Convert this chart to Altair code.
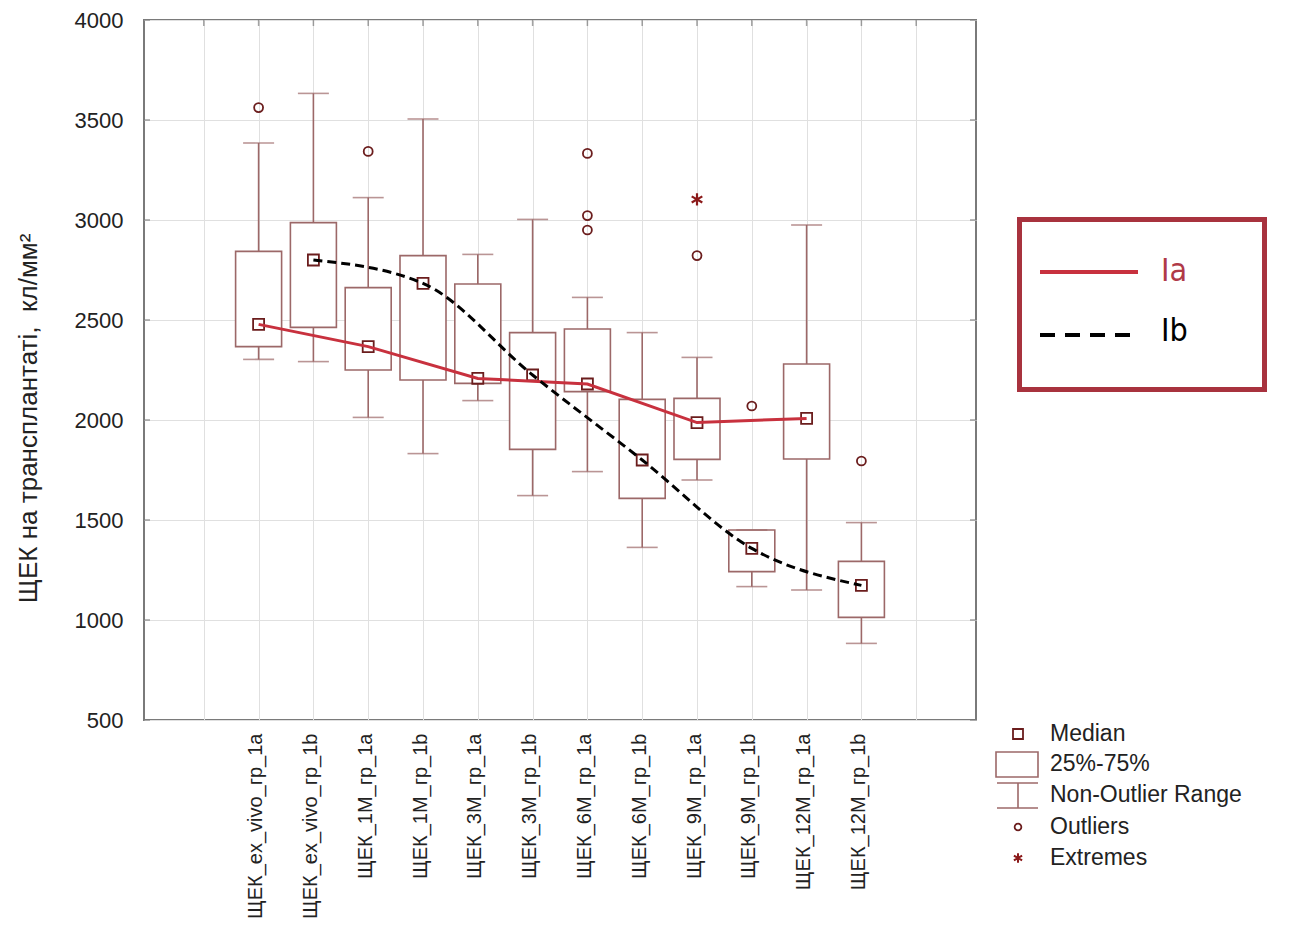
import json
import altair as alt
import pandas as pd

# ---------------- data ----------------
categories = ["ЩЕК_ex_vivo_гр_1a", "ЩЕК_ex_vivo_гр_1b", "ЩЕК_1M_гр_1a", "ЩЕК_1M_гр_1b",
              "ЩЕК_3M_гр_1a", "ЩЕК_3M_гр_1b", "ЩЕК_6M_гр_1a", "ЩЕК_6M_гр_1b",
              "ЩЕК_9M_гр_1a", "ЩЕК_9M_гр_1b", "ЩЕК_12M_гр_1a", "ЩЕК_12M_гр_1b"]
groups = ["Ia", "Ib", "Ia", "Ib", "Ia", "Ib", "Ia", "Ib", "Ia", "Ib", "Ia", "Ib"]
medians = [2478, 2800, 2367, 2683, 2208, 2225, 2180, 1800, 1987, 1358, 2008, 1173]
q1 = [2367, 2463, 2250, 2200, 2183, 1853, 2142, 1608, 1803, 1242, 1805, 1013]
q3 = [2843, 2987, 2662, 2822, 2680, 2437, 2455, 2103, 2108, 1450, 2280, 1293]
whisker_low = [2303, 2292, 2013, 1832, 2097, 1622, 1742, 1363, 1700, 1167, 1150, 883]
whisker_high = [3385, 3633, 3112, 3505, 2828, 3003, 2613, 2437, 2313, 1450, 2975, 1487]
outlier_cat = [0, 2, 6, 6, 6, 8, 9, 11]
outlier_val = [3562, 3343, 3333, 3022, 2950, 2822, 2070, 1795]
extreme_cat = [8]
extreme_val = [3103]
y_ticks = [500, 1000, 1500, 2000, 2500, 3000, 3500, 4000]
x_grid = list(range(1, 15))
group_labels = ["Ia", "Ib"]
box_legend_labels = ["Median", "25%-75%", "Non-Outlier Range", "Outliers", "Extremes"]
y_title = "ЩЕК на трансплантаті,\u00a0 кл/мм²"

# ---------------- tables ----------------
FIRST = 2  # first category sits on slot 2 of 0..15
box_df = pd.DataFrame({
    "pos": [i + FIRST for i in range(len(categories))],
    "cat": categories, "grp": groups,
    "med": medians, "q1": q1, "q3": q3, "lo": whisker_low, "hi": whisker_high,
})
out_df = pd.DataFrame({"pos": [c + FIRST for c in outlier_cat], "v": outlier_val})
ext_df = pd.DataFrame({"pos": [c + FIRST for c in extreme_cat], "v": extreme_val})
ytick_df = pd.DataFrame({"v": y_ticks})
xgrid_df = pd.DataFrame({"g": x_grid})
one = pd.DataFrame({"k": [0]})

# ---------------- styles ----------------
FONT = "Liberation Sans"
NARROW = "Liberation Sans Narrow, Arial Narrow, DejaVu Sans Condensed, Roboto Condensed, Liberation Sans, sans-serif"
BOX = "#9c6868"
DARK = "#6b1d1d"
RED = "#c8313e"
FRAME = "#7a7a7a"
W, H = 832, 700

xs = alt.Scale(domain=[0, 15], nice=False, zero=False)
ys = alt.Scale(domain=[500, 4000], nice=False, zero=False)
label_expr = ("datum.value >= 2 && datum.value <= 13 ? "
              + json.dumps(categories, ensure_ascii=False) + "[datum.value - 2] : ''")
xaxis = alt.Axis(values=x_grid, labelExpr=label_expr, labelAngle=270, labelAlign="right",
                 labelBaseline="middle", labelFontSize=20, labelPadding=13, labelOffset=-3,
                 labelOverlap=False, labelFlush=False, labelLimit=0, ticks=False,
                 domain=False, grid=True, title=None)
yaxis = alt.Axis(values=y_ticks, format="d", grid=True, ticks=False, domain=False,
                 labelFontSize=22, labelPadding=21, title=y_title, titleFontSize=26,
                 titleFontWeight="normal", titleAngle=270, titleAlign="center",
                 titleBaseline="middle", titleX=-116, titleY=398)


def X(field):
    return alt.X(field, scale=xs, axis=xaxis)


def Y(field):
    return alt.Y(field, scale=ys, axis=yaxis)


base = alt.Chart(box_df)

boxes = base.mark_bar(size=46, fill="white", stroke=BOX, strokeWidth=1.6).encode(
    x=X("pos:Q"), y=Y("q1:Q"), y2="q3:Q")
wh_up = base.mark_rule(color=BOX, strokeWidth=1.6).encode(x=X("pos:Q"), y=Y("hi:Q"), y2="q3:Q")
wh_dn = base.mark_rule(color=BOX, strokeWidth=1.6).encode(x=X("pos:Q"), y=Y("q1:Q"), y2="lo:Q")
cap_hi = base.mark_tick(orient="horizontal", size=31, thickness=1.6, color=BOX).encode(
    x=X("pos:Q"), y=Y("hi:Q"))
cap_lo = base.mark_tick(orient="horizontal", size=31, thickness=1.6, color=BOX).encode(
    x=X("pos:Q"), y=Y("lo:Q"))
med_pts = base.mark_point(shape="square", size=121, filled=False, stroke=DARK,
                          strokeWidth=1.8, opacity=1).encode(x=X("pos:Q"), y=Y("med:Q"))
outs = alt.Chart(out_df).mark_point(shape="circle", size=80, filled=False, stroke=DARK,
                                    strokeWidth=1.8, opacity=1).encode(x=X("pos:Q"), y=Y("v:Q"))
ASTER = "M0,-1L0,1M-0.866,-0.5L0.866,0.5M-0.866,0.5L0.866,-0.5"
exts = alt.Chart(ext_df).mark_point(shape=ASTER, size=150, filled=False, stroke="#8b1a1a",
                                    strokeWidth=2.2, opacity=1).encode(x=X("pos:Q"), y=Y("v:Q"))

la_line = base.transform_filter(alt.datum.grp == "Ia").mark_line(
    color=RED, strokeWidth=3).encode(x=X("pos:Q"), y=Y("med:Q"))
lb_line = base.transform_filter(alt.datum.grp == "Ib").mark_line(
    color="black", strokeWidth=3, strokeDash=[9, 5], interpolate="monotone").encode(
    x=X("pos:Q"), y=Y("med:Q"))

# inward frame ticks
tick_left = alt.Chart(ytick_df).mark_tick(orient="horizontal", size=6, thickness=1.5,
                                          color=FRAME).encode(y=Y("v:Q"), x=alt.value(3))
tick_right = alt.Chart(ytick_df).mark_tick(orient="horizontal", size=6, thickness=1.5,
                                           color=FRAME).encode(y=Y("v:Q"), x=alt.value(W - 3))
tick_top = alt.Chart(xgrid_df).mark_tick(orient="vertical", size=6, thickness=1.5,
                                         color=FRAME).encode(x=X("g:Q"), y=alt.value(3))

# ---------------- group legend (Ia / Ib) ----------------
o = alt.Chart(one)
leg_box = o.mark_rect(fill="white", stroke="#a8323e", strokeWidth=5).encode(
    x=alt.value(875.5), x2=alt.value(1120.5), y=alt.value(199.5), y2=alt.value(369.5))
leg_la = o.mark_rule(color=RED, strokeWidth=4).encode(
    x=alt.value(896), x2=alt.value(994), y=alt.value(252))
leg_lb = o.mark_rule(color="black", strokeWidth=4, strokeDash=[15, 10]).encode(
    x=alt.value(896), x2=alt.value(994), y=alt.value(315))
leg_la_t = o.mark_text(align="left", baseline="middle", fontSize=32, font=NARROW,
                       color="#b03a48").encode(
    x=alt.value(1017), y=alt.value(251), text=alt.value(group_labels[0]))
leg_lb_t = o.mark_text(align="left", baseline="middle", fontSize=32, font=NARROW,
                       color="black").encode(
    x=alt.value(1017), y=alt.value(311), text=alt.value(group_labels[1]))

# ---------------- box-plot key ----------------
k_med = o.mark_point(shape="square", size=100, filled=False, stroke=DARK, strokeWidth=1.8,
                     opacity=1).encode(x=alt.value(874), y=alt.value(714))
k_box = o.mark_rect(fill="white", stroke=BOX, strokeWidth=1.6).encode(
    x=alt.value(852), x2=alt.value(894), y=alt.value(732), y2=alt.value(757))
k_cap1 = o.mark_rule(color=BOX, strokeWidth=1.6).encode(
    x=alt.value(853), x2=alt.value(894), y=alt.value(763))
k_stem = o.mark_rule(color=BOX, strokeWidth=1.6).encode(
    x=alt.value(874), y=alt.value(763), y2=alt.value(788))
k_cap2 = o.mark_rule(color=BOX, strokeWidth=1.6).encode(
    x=alt.value(853), x2=alt.value(894), y=alt.value(788))
k_out = o.mark_point(shape="circle", size=45, filled=False, stroke=DARK, strokeWidth=1.8,
                     opacity=1).encode(x=alt.value(874), y=alt.value(807))
k_ext = o.mark_point(shape=ASTER, size=90, filled=False, stroke="#8b1a1a", strokeWidth=2,
                     opacity=1).encode(x=alt.value(874), y=alt.value(838))
key_y = [714, 744, 775, 807, 838]
key_texts = [
    o.mark_text(align="left", baseline="middle", fontSize=23, font=FONT, color="#222").encode(
        x=alt.value(906), y=alt.value(yy), text=alt.value(lab))
    for lab, yy in zip(box_legend_labels, key_y)
]

chart = alt.layer(
    boxes, wh_up, wh_dn, cap_hi, cap_lo, med_pts, outs, exts, la_line, lb_line,
    tick_left, tick_right, tick_top,
    leg_box, leg_la, leg_lb, leg_la_t, leg_lb_t,
    k_med, k_box, k_cap1, k_stem, k_cap2, k_out, k_ext, *key_texts,
).properties(
    width=W, height=H,
    padding={"left": 136, "top": 12, "right": 308, "bottom": 211},
    autosize=alt.AutoSizeParams(type="none"),
    background="white",
).configure_view(
    stroke=FRAME, strokeWidth=2,
).configure_axis(
    labelFont=FONT, titleFont=FONT, labelColor="#222", titleColor="#222",
    gridColor="#e0e0e0", gridWidth=1,
)

chart.save("out.html", embed_options={"renderer": "svg", "actions": False})
